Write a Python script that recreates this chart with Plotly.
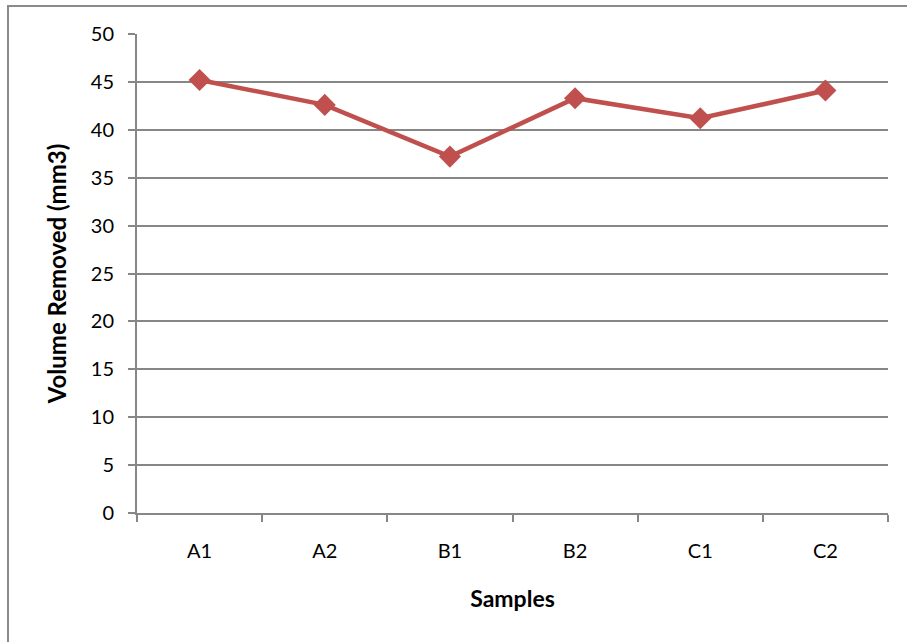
import plotly.graph_objects as go

# Volume removed per sample
samples = ["A1", "A2", "B1", "B2", "C1", "C2"]
volume_removed = [45.2, 42.6, 37.2, 43.3, 41.2, 44.1]

y_ticks = [0, 5, 10, 15, 20, 25, 30, 35, 40, 45, 50]

W, H = 907, 642
L, R, T, B = 137, 19, 34, 129
pw, ph = W - L - R, H - T - B

font_family = "Lato, 'Open Sans', sans-serif"
grid_color = "#878787"

fig = go.Figure()
fig.add_trace(go.Scatter(
    x=samples,
    y=volume_removed,
    mode="lines+markers",
    line=dict(color="#C0504D", width=4.5),
    marker=dict(symbol="diamond", size=17, color="#C0504D"),
    showlegend=False,
))

fig.update_layout(
    width=W,
    height=H,
    margin=dict(l=L, r=R, t=T, b=B, pad=0),
    paper_bgcolor="white",
    plot_bgcolor="white",
    font=dict(family=font_family, size=20, color="black"),
    xaxis=dict(
        type="category",
        showgrid=False,
        showline=True,
        linecolor=grid_color,
        linewidth=2,
        ticks="outside",
        tickson="boundaries",
        ticklen=7,
        tickwidth=2,
        tickcolor=grid_color,
        ticklabelstandoff=19,
        tickfont=dict(size=20),
        title=dict(text="<b>Samples</b>", font=dict(size=23), standoff=30),
        range=[-0.5, 5.5],
    ),
    yaxis=dict(
        range=[0, 50],
        tickvals=y_ticks,
        showgrid=True,
        gridcolor=grid_color,
        gridwidth=1.5,
        zeroline=False,
        showline=True,
        linecolor=grid_color,
        linewidth=2,
        ticks="outside",
        ticklen=7,
        tickwidth=1.5,
        tickcolor=grid_color,
        ticklabelstandoff=10,
        tickfont=dict(size=20),
        title=dict(text="<b>Volume Removed (mm3)</b>", font=dict(size=24), standoff=17),
    ),
    shapes=[
        # chart frame (top and left edges visible)
        dict(
            type="rect",
            xref="paper", yref="paper",
            x0=(8 - L) / pw, x1=(930 - L) / pw,
            y0=(T + ph - 670) / ph, y1=(T + ph - 6) / ph,
            line=dict(color="#8a8a8a", width=2),
            layer="below",
        )
    ],
)

fig.write_html("out.html")
